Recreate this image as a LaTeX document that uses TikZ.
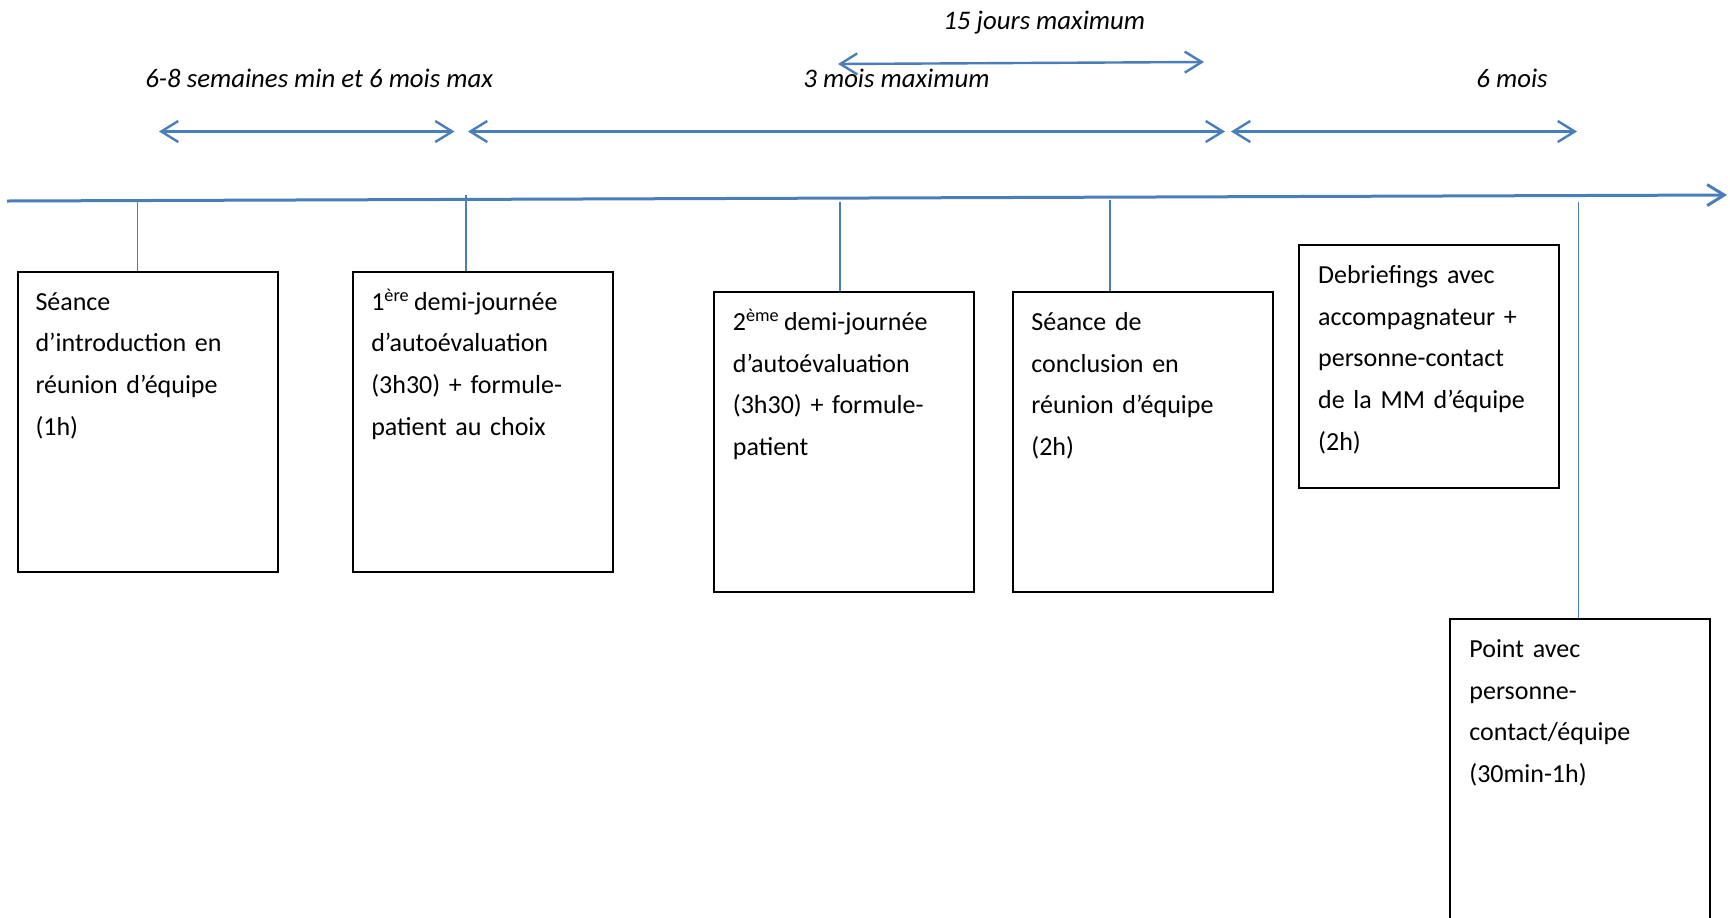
\documentclass[tikz,border=0pt]{standalone}
\usepackage{fontspec}
\setmainfont{Carlito}
\usetikzlibrary{arrows.meta,calc}
\definecolor{wblue}{RGB}{74,126,187}
\begin{document}
\begin{tikzpicture}[x=0.5pt,y=-0.5pt,
  >={Straight Barb[length=8.5pt,width=10.5pt]},
  timeline/.style={wblue,line width=1.5pt,->},
  span/.style={wblue,line width=1.2pt,<->},
  tick/.style={wblue,line width=0.75pt},
  box/.style={draw=black,line width=1pt,minimum width=130pt,minimum height=150pt,anchor=north west,inner sep=0pt},
  boxtext/.style={anchor=base west,align=left,text width=125pt,inner sep=0pt,font=\fontsize{13pt}{20.85pt}\selectfont},
  dur/.style={anchor=base west,inner sep=0pt,font=\fontsize{13.4pt}{15pt}\selectfont\itshape}]
\useasboundingbox (0,0) rectangle (1730,917);

% timeline
\coordinate (tl0) at (7,201);
\coordinate (tl1) at (1727,195);
\draw[timeline] (tl0) -- (tl1);

% duration spans
\coordinate (a1l) at (159,131.5);
\coordinate (a1r) at (454.5,131.5);
\coordinate (a2l) at (468,131.5);
\coordinate (a2r) at (1225,131.5);
\coordinate (a3l) at (1231,131.5);
\coordinate (a3r) at (1577,131.5);
\coordinate (a4l) at (838,64);
\coordinate (a4r) at (1204,62);
\draw[span] (a1l) -- (a1r);
\draw[span] (a2l) -- (a2r);
\draw[span] (a3l) -- (a3r);
\draw[span] (a4l) -- (a4r);

\node[dur] (d1) at (145,87) {6-8 semaines min et 6 mois max};
\node[dur] (d2) at (803,87) {3 mois maximum};
\node[dur] (d3) at (943,29) {15 jours maximum};
\node[dur] (d4) at (1476,87) {6 mois};

% boxes
\node[box] (b1) at (16.6,270.7) {};
\node[box] (b2) at (352.4,270.7) {};
\node[box] (b3) at (713,291) {};
\node[box] (b4) at (1012,291) {};
\node[box,minimum height=121.4pt] (b5) at (1298.4,244.3) {};
\node[box,minimum height=160pt] (b6) at (1449.3,618.3) {};

\node[boxtext] (t1) at ($(b1.north west)+(18.5,39.3)$) {Séance\\d’introduction en\\réunion d’équipe\\(1h)};
\node[boxtext] (t2) at ($(b2.north west)+(18.5,39.3)$) {1\textsuperscript{ère}\,demi-journée\\d’autoévaluation\\(3h30) + formule-\\patient au choix};
\node[boxtext] (t3) at ($(b3.north west)+(19.5,39.3)$) {2\textsuperscript{ème}\,demi-journée\\d’autoévaluation\\(3h30) + formule-\\patient};
\node[boxtext] (t4) at ($(b4.north west)+(19,39.3)$) {Séance de\\conclusion en\\réunion d’équipe\\(2h)};
\node[boxtext] (t5) at ($(b5.north west)+(19.4,39)$) {Debriefings avec\\accompagnateur +\\personne-contact\\de la MM d’équipe\\(2h)};
\node[boxtext] (t6) at ($(b6.north west)+(19.7,39)$) {Point avec\\personne-\\contact/équipe\\(30min-1h)};

% ticks from timeline to boxes
\coordinate (m1) at (137.6,201);
\coordinate (m2) at (466,195);
\coordinate (m3) at (840,202);
\coordinate (m4) at (1110,200);
\coordinate (m5) at (1578.5,202);
\draw[tick] (m1) -- (m1 |- b1.north);
\draw[tick] (m2) -- (m2 |- b2.north);
\draw[tick] (m3) -- (m3 |- b3.north);
\draw[tick] (m4) -- (m4 |- b4.north);
\draw[tick] (m5) -- (m5 |- b6.north);
\end{tikzpicture}
\end{document}
